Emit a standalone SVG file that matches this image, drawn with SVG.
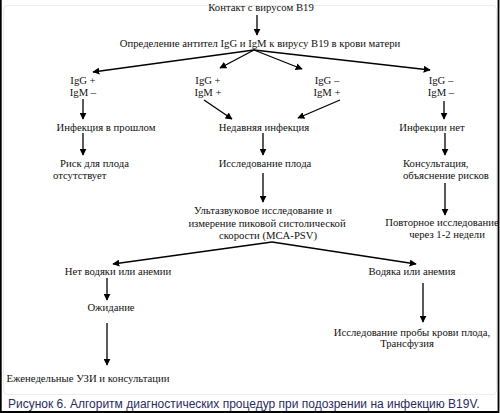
<svg xmlns="http://www.w3.org/2000/svg" width="500" height="413" viewBox="0 0 500 413">
<style>
.t{font-family:"Liberation Serif","Times New Roman",serif;font-size:10.7px;fill:#111;text-anchor:middle}
.s{text-anchor:start}
.c{stroke:#000;stroke-width:1.3;fill:none;marker-end:url(#ah)}
.cap{font-family:"Liberation Sans",Arial,sans-serif;font-size:12px;fill:#2b2b5e}
</style>
<defs>
<marker id="ah" viewBox="0 0 10 10" refX="9" refY="5" markerWidth="7" markerHeight="7" markerUnits="userSpaceOnUse" orient="auto">
<path d="M0,0 L10,5 L0,10 z" fill="#000"/>
</marker>
</defs>
<rect x="0" y="0" width="500" height="413" fill="#fff"/>
<rect x="3.5" y="5.5" width="493" height="389" rx="4" fill="none" stroke="#ececec" stroke-width="1"/>
<path d="M0.8,0 V412 H498.5 V0" fill="none" stroke="#000" stroke-width="1.8"/>

<g id="connectors">
<line class="c" x1="257" y1="15" x2="257" y2="35"/>
<line class="c" x1="254" y1="50" x2="93" y2="72"/>
<line class="c" x1="254" y1="50" x2="220" y2="68"/>
<line class="c" x1="254" y1="50" x2="302" y2="69"/>
<line class="c" x1="254" y1="50" x2="430" y2="70"/>
<line class="c" x1="83" y1="99" x2="83" y2="119"/>
<line class="c" x1="204" y1="100" x2="232" y2="119"/>
<line class="c" x1="340" y1="100" x2="298" y2="118"/>
<line class="c" x1="444" y1="101" x2="444" y2="119"/>
<line class="c" x1="83" y1="133" x2="83" y2="155"/>
<line class="c" x1="263" y1="133" x2="263" y2="155"/>
<line class="c" x1="445" y1="133" x2="445" y2="155"/>
<line class="c" x1="263" y1="173" x2="263" y2="202"/>
<line class="c" x1="445" y1="183" x2="445" y2="215"/>
<line class="c" x1="272" y1="242" x2="113" y2="264"/>
<line class="c" x1="272" y1="242" x2="416" y2="264"/>
<line class="c" x1="107" y1="278" x2="107" y2="300"/>
<line class="c" x1="107" y1="323" x2="107" y2="365"/>
<line class="c" x1="423" y1="283" x2="423" y2="322"/>
</g>

<g id="n-contact"><text class="t" x="261" y="11">Контакт с вирусом B19</text></g>
<g id="n-test"><text class="t" x="260" y="47">Определение антител IgG и IgM к вирусу B19 в крови матери</text></g>
<g id="n-gp-mm"><text class="t" x="83" y="84">IgG +</text><text class="t" x="83" y="96">IgM –</text></g>
<g id="n-gp-mp"><text class="t" x="208" y="84">IgG +</text><text class="t" x="208" y="96">IgM +</text></g>
<g id="n-gm-mp"><text class="t" x="327" y="84">IgG –</text><text class="t" x="327" y="96">IgM +</text></g>
<g id="n-gm-mm"><text class="t" x="441" y="84">IgG –</text><text class="t" x="441" y="96">IgM –</text></g>
<g id="n-past"><text class="t" x="106" y="131">Инфекция в прошлом</text></g>
<g id="n-recent"><text class="t" x="264" y="131">Недавняя инфекция</text></g>
<g id="n-none"><text class="t" x="432" y="131">Инфекции нет</text></g>
<g id="n-norisk"><text class="t s" x="60" y="167">Риск для плода</text><text class="t s" x="53" y="179">отсутствует</text></g>
<g id="n-fetus"><text class="t" x="265" y="167">Исследование плода</text></g>
<g id="n-consult"><text class="t s" x="403" y="167">Консультация,</text><text class="t s" x="403" y="179">объяснение рисков</text></g>
<g id="n-us"><text class="t" x="263" y="214">Ультазвуковое исследование и</text><text class="t" x="267" y="227">измерение пиковой систолической</text><text class="t" x="268" y="239">скорости (MCA-PSV)</text></g>
<g id="n-repeat"><text class="t" x="442" y="226">Повторное исследование</text><text class="t" x="447" y="238">через 1-2 недели</text></g>
<g id="n-nohyd"><text class="t" x="118" y="275">Нет водяки или анемии</text></g>
<g id="n-hyd"><text class="t" x="412" y="275">Водяка или анемия</text></g>
<g id="n-wait"><text class="t" x="111" y="311">Ожидание</text></g>
<g id="n-weekly"><text class="t" x="88" y="382">Еженедельные УЗИ и консультации</text></g>
<g id="n-blood"><text class="t" x="412" y="336">Исследование пробы крови плода,</text><text class="t" x="407" y="347">Трансфузия</text></g>

<text class="cap" x="8" y="408">Рисунок 6. Алгоритм  диагностических  процедур при подозрении на инфекцию B19V.</text>
</svg>
